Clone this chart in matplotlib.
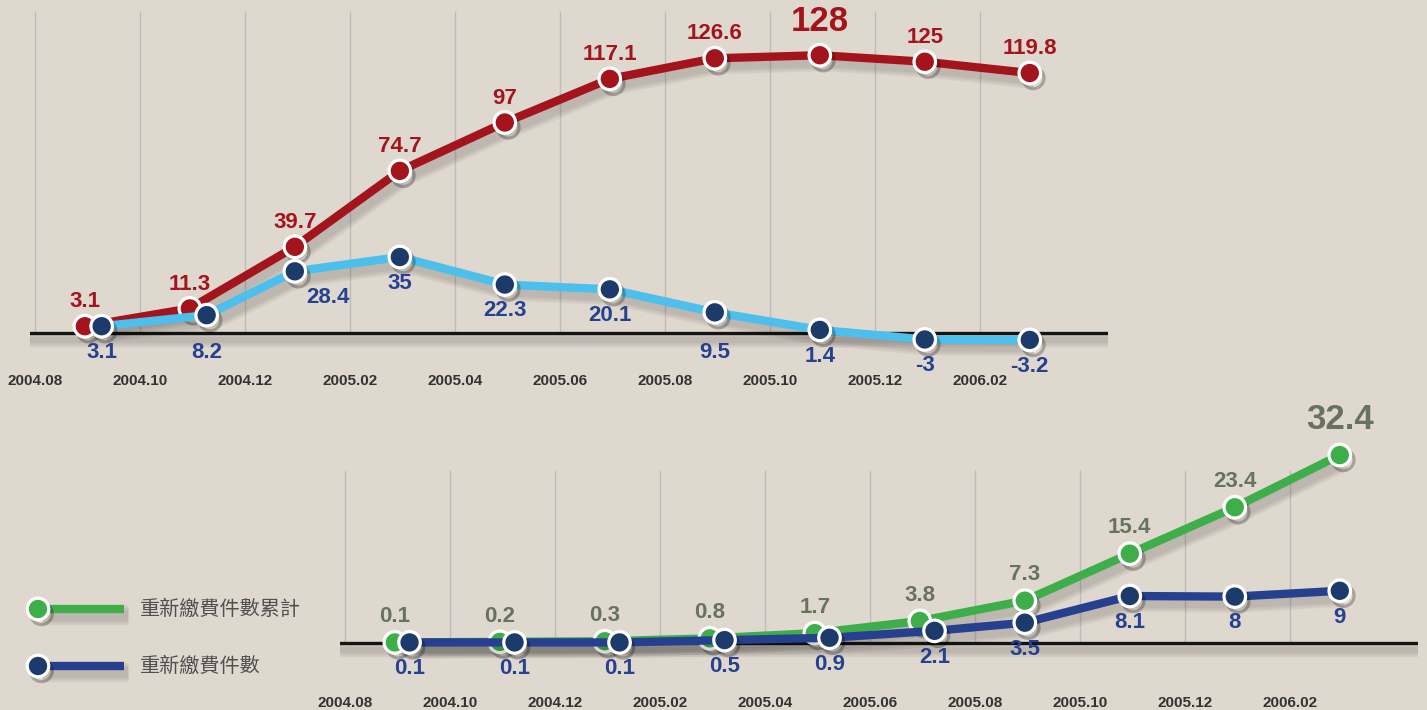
import numpy as np
import matplotlib
matplotlib.use("Agg")
import matplotlib.pyplot as plt
import matplotlib.patheffects as pe

# ---- data -------------------------------------------------------------
tick_labels = ["2004.08", "2004.10", "2004.12", "2005.02", "2005.04",
               "2005.06", "2005.08", "2005.10", "2005.12", "2006.02"]
# one observation every two months, midway between the labelled months
obs_month = np.arange(10) * 2 + 0.95

top_cumulative = [3.1, 11.3, 39.7, 74.7, 97, 117.1, 126.6, 128, 125, 119.8]
top_change = [3.1, 8.2, 28.4, 35, 22.3, 20.1, 9.5, 1.4, -3, -3.2]

renew_cumulative = [0.1, 0.2, 0.3, 0.8, 1.7, 3.8, 7.3, 15.4, 23.4, 32.4]
renew_count = [0.1, 0.1, 0.1, 0.5, 0.9, 2.1, 3.5, 8.1, 8, 9]

legend_labels = ["重新繳費件數累計", "重新繳費件數"]

# ---- style ------------------------------------------------------------
BG = "#dfd8ce"
RED = "#a3141d"
SKY = "#4cbfec"
NAVY_DOT = "#1d3b6a"
NAVY_LINE = "#26408f"
NAVY_TXT = "#25418f"
GREEN = "#3dae4a"
GREEN_TXT = "#68735f"
GRID = "#bcbcbc"
NUM_FONT = "Liberation Sans"
CJK_FONT = ["Noto Sans CJK TC", "DejaVu Sans"]

W, H, DPI = 1427, 710, 100
PX = 72 / DPI  # points per pixel
fig = plt.figure(figsize=(W / DPI, H / DPI), dpi=DPI, facecolor=BG)


def soft_shadow(width, offset=(3, -4.5), alpha=0.05, spread=(8, 5, 2)):
    """A few stacked translucent strokes that read as a blurred drop shadow."""
    fx = [pe.SimpleLineShadow(offset=offset, shadow_color="black", alpha=alpha,
                              linewidth=width + s) for s in spread]
    return fx + [pe.Normal()]


line_fx = soft_shadow(6)
dot_fx = [pe.SimpleLineShadow(offset=(2.5, -3.5), shadow_color="black", alpha=0.25),
          pe.Normal()]


def panel(rect_px, ylim):
    x0, x1, y0, y1 = rect_px
    ax = fig.add_axes([x0 / W, 1 - y1 / H, (x1 - x0) / W, (y1 - y0) / H])
    ax.set_xlim(-0.095, 20.44)
    ax.set_ylim(*ylim)
    ax.set_facecolor("none")
    ax.axis("off")
    return ax


def frame(ax, grid_top, tick_y):
    months = np.arange(len(tick_labels)) * 2
    ax.vlines(months, 0, grid_top, color=GRID, lw=1.0, zorder=1)
    ax.axhline(0, color="#141414", lw=2.4, zorder=2,
               path_effects=soft_shadow(2.4, offset=(2, -5), alpha=0.05, spread=(8, 5, 2)))
    for m, t in zip(months, tick_labels):
        ax.text(m, tick_y, t, ha="center", va="center", fontsize=11,
                fontweight="bold", color="#333333", family=NUM_FONT)


def series(ax, x, y, line_color, dot_color, z):
    ax.plot(x, y, color=line_color, lw=6, solid_capstyle="butt",
            solid_joinstyle="round", zorder=z, path_effects=line_fx)
    ax.plot(x, y, ls="none", marker="o", ms=15.5, mfc=dot_color, mec="white",
            mew=2.3, zorder=z + 0.5, path_effects=dot_fx)


def labels(ax, x, y, color, dy, big=None, nudge=None, clear_base=False):
    """Value labels; below-line labels can be pushed clear of the zero line."""
    nudge = nudge or {}
    base_px = ax.transData.transform((0, 0))[1]
    for i, (xi, yi) in enumerate(zip(x, y)):
        txt = f"{yi:g}"
        size, off = 16, dy
        if big is not None and i == big:
            size, off = 25, dy * 1.4
        if clear_base and dy < 0:
            d = ax.transData.transform((xi, yi))[1] - base_px
            if d < 25:
                off = -max(-dy, (d + 20) * PX)
        dx = nudge.get(i, 0)
        ax.annotate(txt, (xi, yi), xytext=(dx, off), textcoords="offset points",
                    ha="center", va="center", fontsize=size, fontweight="bold",
                    color=color, family=NUM_FONT, zorder=10)


# ---- top panel --------------------------------------------------------
ax1 = panel((30, 1108, 0, 400), (-30.9, 153.46))
frame(ax1, 148.4, -22.1)
close = np.abs(np.array(top_cumulative) - np.array(top_change)) < 10
x_change = obs_month + np.where(close, 0.32, 0)
series(ax1, obs_month, top_cumulative, RED, RED, 4)
series(ax1, x_change, top_change, SKY, NAVY_DOT, 6)
labels(ax1, obs_month, top_cumulative, RED, 17.5, big=int(np.argmax(top_cumulative)))
labels(ax1, x_change, top_change, NAVY_TXT, -19, nudge={2: 24}, clear_base=True)

# ---- bottom panel -----------------------------------------------------
ax2 = panel((340, 1418, 410, 710), (-11.55, 40.17))
frame(ax2, 29.8, -10.3)
close2 = np.abs(np.array(renew_cumulative) - np.array(renew_count)) < 3
x_count = obs_month + np.where(close2, 0.28, 0)
series(ax2, obs_month, renew_cumulative, GREEN, GREEN, 4)
series(ax2, x_count, renew_count, NAVY_LINE, NAVY_DOT, 6)
labels(ax2, obs_month, renew_cumulative, GREEN_TXT, 18.5,
       big=len(renew_cumulative) - 1)
labels(ax2, x_count, renew_count, NAVY_TXT, -19)

# ---- legend -----------------------------------------------------------
leg = fig.add_axes([0, 0, 1, 1])
leg.set_xlim(0, W)
leg.set_ylim(H, 0)
leg.axis("off")
leg.set_facecolor("none")
for (yy, col, dot, lab) in [(609, GREEN, GREEN, legend_labels[0]),
                            (666, NAVY_LINE, NAVY_DOT, legend_labels[1])]:
    leg.plot([38, 124], [yy, yy], color=col, lw=6, solid_capstyle="butt",
             path_effects=line_fx)
    leg.plot([38], [yy], ls="none", marker="o", ms=15.5, mfc=dot, mec="white",
             mew=2.3, path_effects=dot_fx)
    leg.text(140, yy, lab, ha="left", va="center", fontsize=14.5, color="#505050",
             family=CJK_FONT)

fig.savefig("out.png", dpi=DPI, facecolor=BG)
